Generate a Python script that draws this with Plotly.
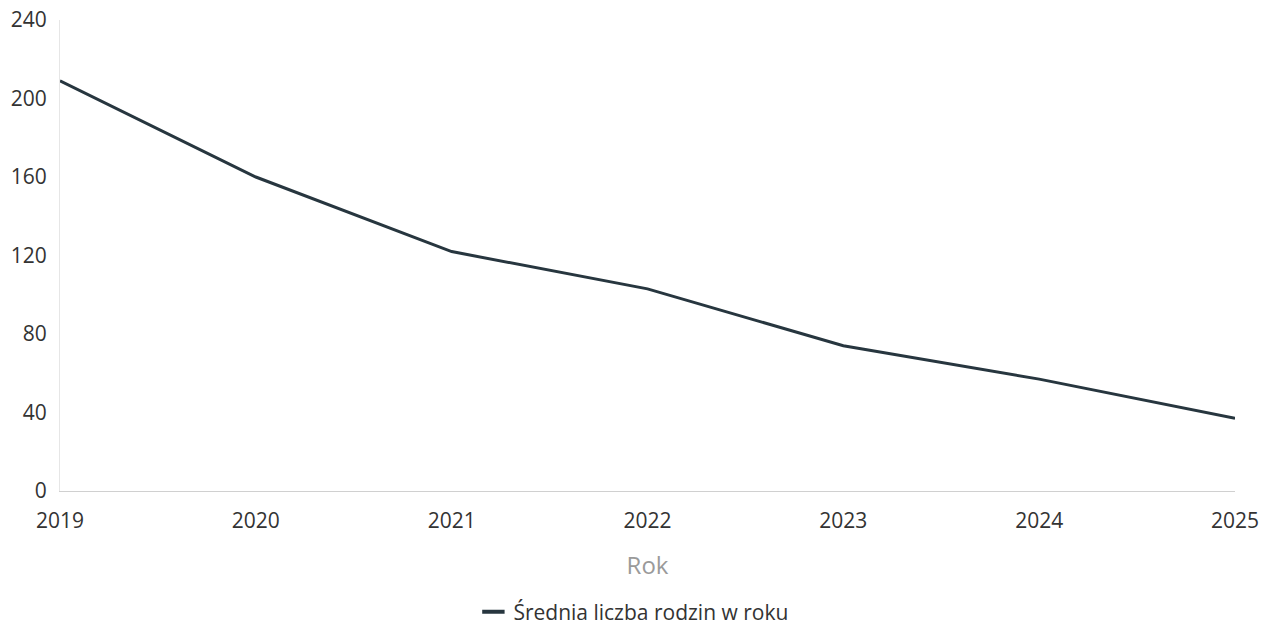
import plotly.graph_objects as go

years = ["2019", "2020", "2021", "2022", "2023", "2024", "2025"]
values = [209, 160, 122, 103, 74, 57, 37]
y_ticks = [0, 40, 80, 120, 160, 200, 240]
series_name = "Średnia liczba rodzin w roku"
x_title = "Rok"

line_color = "#27363f"
font_family = "Open Sans, Noto Sans, sans-serif"

fig = go.Figure()
fig.add_trace(go.Scatter(
    x=years, y=values, mode="lines", name=series_name,
    line=dict(color=line_color, width=3), showlegend=False,
))
fig.add_trace(go.Scatter(
    x=[None], y=[None], mode="markers", name=series_name,
    marker=dict(symbol="line-ew-open", size=17, color=line_color,
                line=dict(color=line_color, width=4)),
    showlegend=True,
))

fig.update_layout(
    width=1261, height=626,
    margin=dict(l=60, r=26, t=20, b=135, autoexpand=False),
    paper_bgcolor="white", plot_bgcolor="white",
    font=dict(family=font_family, size=21, color="#333333"),
    legend=dict(orientation="h", x=0.488, xanchor="center", y=-0.257, yanchor="middle",
                font=dict(size=21, color="#333333")),
    xaxis=dict(
        type="category", range=[0, 6], showgrid=False, automargin=False,
        showline=True, linecolor="#d0d0d0", linewidth=1,
        ticks="outside", ticklen=11, tickcolor="rgba(0,0,0,0)",
        ticklabeloverflow="allow",
        tickfont=dict(size=21, color="#333333"),
        title=dict(text=x_title, font=dict(size=24, color="#9a9a9a"), standoff=23),
        zeroline=False,
    ),
    yaxis=dict(
        range=[0, 240], tickvals=y_ticks, showgrid=False, automargin=False,
        showline=True, linecolor="#e6e6e6", linewidth=1,
        ticks="outside", ticklen=8, tickcolor="rgba(0,0,0,0)",
        ticklabeloverflow="allow",
        tickfont=dict(size=21, color="#333333"),
        zeroline=False,
    ),
)

fig.write_html(
    "out.html",
    config={"displayModeBar": False},
    post_script="document.body.style.margin='0';document.body.style.overflow='hidden';",
)
